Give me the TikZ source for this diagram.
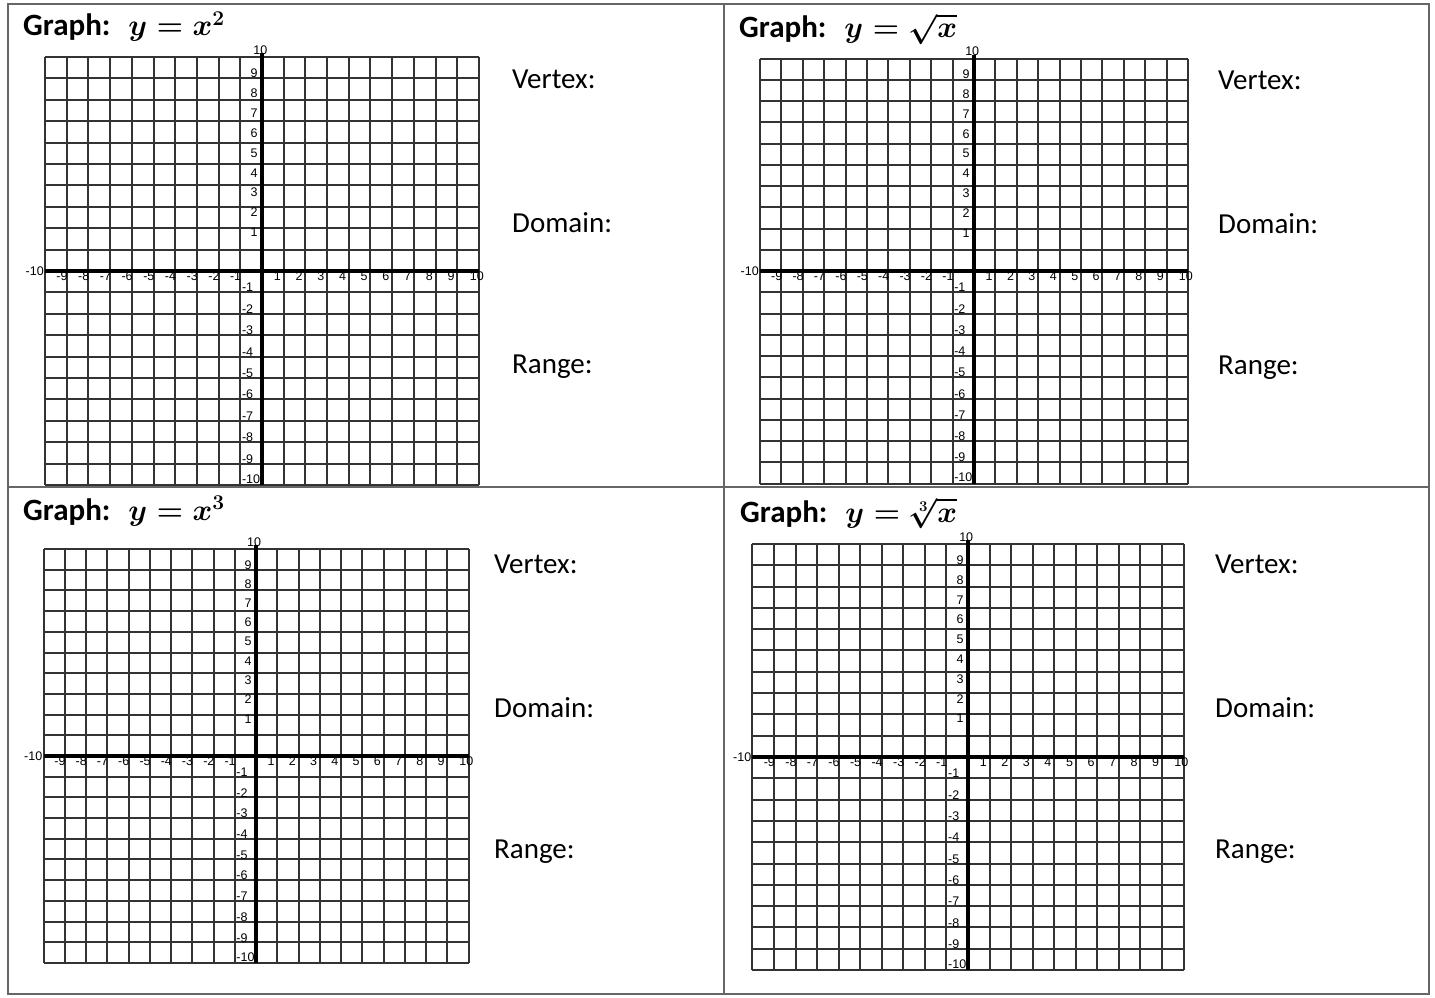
\RequirePackage{fix-cm}
\documentclass[tikz,border=0pt]{standalone}
\usepackage{amsmath}
\usepackage{fontspec}
\setmainfont{Carlito}
\newfontfamily\tickfont{Liberation Sans}
\usepackage{tikz}

\tikzset{
  tableline/.style={black!60, line width=1.2pt},
  gridline/.style={black!80, line width=1.4pt},
  axisline/.style={black, line width=3.2pt},
  ticklabel/.style={font=\tickfont\fontsize{12.5}{13}\selectfont, inner sep=0pt},
  celltitle/.style={font=\fontsize{31}{36}\selectfont\bfseries, anchor=base west, inner sep=0pt},
  askfield/.style={font=\fontsize{29}{34}\selectfont, anchor=west, inner sep=0pt}
}
\newcommand{\titlemath}[1]{{\fontsize{30}{34}\selectfont\boldmath\smash[t]{$#1$}}}

% grid of -10..10 with labelled axes: name, centre x, centre y, cell width, cell height
\newcommand{\coordgrid}[5]{%
  \pgfmathsetmacro\gleft{round(#2-10*#4)}
  \pgfmathsetmacro\gright{round(#2+10*#4)}
  \pgfmathsetmacro\gtop{round(#3-10*#5)}
  \pgfmathsetmacro\gbottom{round(#3+10*#5)}
  \foreach \k in {-10,...,10} {
    \pgfmathsetmacro\gx{round(#2+\k*#4)}
    \pgfmathsetmacro\gy{round(#3-\k*#5)}
    \draw[gridline] (\gx,\gtop) -- (\gx,\gbottom);
    \draw[gridline] (\gleft,\gy) -- (\gright,\gy);
  }
  \draw[axisline] (\gleft,{round(#3)}) -- (\gright,{round(#3)});
  \draw[axisline] ({round(#2)},\gbottom) -- ({round(#2)},\gtop-4);
  \begin{scope}[shift={(#2,#3)}, x=#4pt, y=#5pt]
    % numbers along x
    \foreach \k in {1,...,9}
      \node[ticklabel, anchor=east] (#1-x\k) at (\k-0.12,-0.25) {\k};
    \node[ticklabel] (#1-x10) at (9.9,-0.25) {10};
    \foreach \k in {-9,...,-1}
      \node[ticklabel, anchor=east] (#1-x\k) at (\k+0.05,-0.25) {-\the\numexpr-\k\relax};
    \node[ticklabel, anchor=east] (#1-x-10) at (-10.05,0) {-10};
    % numbers along y
    \foreach \k in {1,...,9}
      \node[ticklabel, anchor=east] (#1-y\k) at (-0.2,{\k+0.87-0.07*\k}) {\k};
    \node[ticklabel, anchor=east] (#1-y10) at (0.25,10.33) {10};
    \foreach \k in {-9,...,-1}
      \node[ticklabel, anchor=west] (#1-y\k) at (-0.93,\k+0.22) {-\the\numexpr-\k\relax};
    \node[ticklabel, anchor=west] (#1-y-10) at (-0.93,-9.72) {-10};
  \end{scope}}

% vertex / domain / range prompts: name, x, y of first line
\newcommand{\askfields}[3]{%
  \node[askfield] (#1-vertex) at (#2,#3) {Vertex:};
  \node[askfield] (#1-domain) at (#2,#3+144) {Domain:};
  \node[askfield] (#1-range) at (#2,#3+288) {Range:};}

\begin{document}
\begin{tikzpicture}[x=1pt, y=-1pt]
  \useasboundingbox (0,0) rectangle (1435,998);

  % table
  \draw[tableline] (8,4) rectangle (1429,994);
  \draw[tableline] (724,4) -- (724,994);
  \draw[tableline] (8,487) -- (1429,487);

  % top left: square
  \node[celltitle] (sq-title) at (23,36) {Graph:\hspace{18pt}\titlemath{y = x^{2}}};
  \coordgrid{sq}{262}{271}{21.7}{21.4}
  \askfields{sq}{512}{79}

  % top right: square root
  \node[celltitle] (sqrt-title) at (739,38) {Graph:\hspace{18pt}\titlemath{y = \sqrt{x}}};
  \coordgrid{sqrt}{974}{271}{21.4}{21.25}
  \askfields{sqrt}{1218}{80}

  % bottom left: cube
  \node[celltitle] (cube-title) at (23,520) {Graph:\hspace{18pt}\titlemath{y = x^{3}}};
  \coordgrid{cube}{256}{756}{21.25}{20.7}
  \askfields{cube}{494}{564}

  % bottom right: cube root
  \node[celltitle] (cbrt-title) at (740,522) {Graph:\hspace{18pt}\titlemath{y = \sqrt[3]{x}}};
  \coordgrid{cbrt}{968}{757}{21.55}{21.3}
  \askfields{cbrt}{1215}{564}
\end{tikzpicture}
\end{document}
